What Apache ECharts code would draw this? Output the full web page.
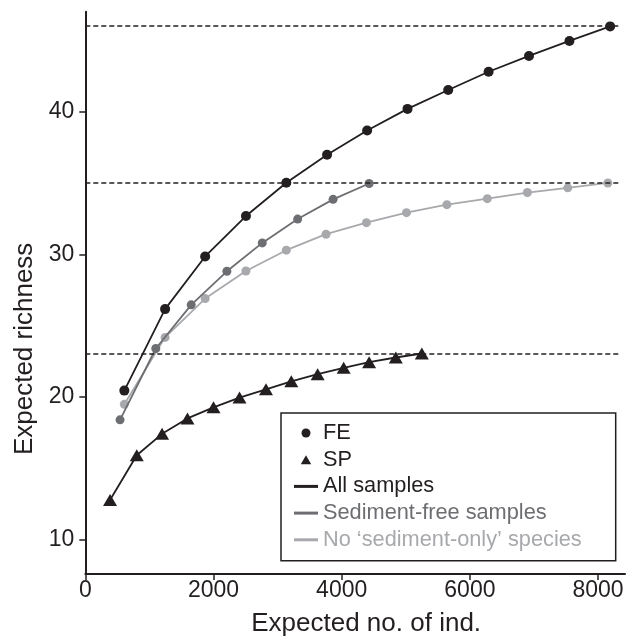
<!DOCTYPE html>
<html>
<head>
<meta charset="utf-8">
<style>
html,body{margin:0;padding:0;background:#fff;}
#chart{width:637px;height:642px;}
</style>
<script src="https://cdn.jsdelivr.net/npm/echarts@6/dist/echarts.min.js"></script>
</head>
<body>
<div id="chart"></div>
<script>
// ---- data ----
const xTicks = [0, 2000, 4000, 6000, 8000];
const yTicks = [10, 20, 30, 40];

const feAllX = [609, 1245, 1870, 2506, 3136, 3772, 4397, 5027, 5662, 6292, 6922, 7553, 8188];
const feAllY = [20.45, 26.16, 29.85, 32.68, 35.01, 36.98, 38.68, 40.19, 41.51, 42.79, 43.9, 44.95, 45.97];

const feSedFreeX = [542, 1100, 1652, 2209, 2761, 3313, 3866, 4428];
const feSedFreeY = [18.4, 23.4, 26.46, 28.81, 30.8, 32.47, 33.85, 34.96];

const feNoSedX = [609, 1245, 1870, 2506, 3136, 3756, 4386, 5011, 5641, 6272, 6897, 7527, 8152];
const feNoSedY = [19.49, 24.18, 26.9, 28.83, 30.29, 31.41, 32.22, 32.92, 33.48, 33.9, 34.33, 34.66, 35.0];

const spAllX = [386, 803, 1198, 1594, 2000, 2406, 2819, 3214, 3625, 4031, 4428, 4844, 5250];
const spAllY = [12.78, 15.92, 17.42, 18.5, 19.28, 19.96, 20.54, 21.1, 21.6, 22.05, 22.44, 22.77, 23.05];

const asymptotes = [46, 35, 23];
const refLineX = [0, 8320];

const legendNames = ['FE', 'SP', 'All samples', 'Sediment-free samples', 'No \u2018sediment-only\u2019 species'];

// ---- styling ----
const FONT = "'Liberation Sans', Arial, Helvetica, sans-serif";
const C_BLACK = '#231f20';
const C_DARK = '#6d6e71';
const C_LIGHT = '#a7a9ac';

function pairs(xs, ys) { return xs.map((x, i) => [x, ys[i]]); }

const chart = echarts.init(document.getElementById('chart'), null, {renderer: 'canvas'});

const option = {
  animation: false,
  backgroundColor: '#fff',
  grid: {left: 85.3, right: 12, top: 11.7, bottom: 65.3, containLabel: false},
  xAxis: {
    type: 'value', min: 0, max: 8420,
    name: 'Expected no. of ind.', nameLocation: 'middle', nameGap: 37,
    nameTextStyle: {fontFamily: FONT, fontSize: 26, color: C_BLACK, padding: [0, 0, 0, 22]},
    axisLine: {show: true, lineStyle: {color: C_BLACK, width: 2}},
    axisTick: {show: true, length: 6, lineStyle: {color: C_BLACK, width: 1.5}, customValues: xTicks},
    axisLabel: {fontFamily: FONT, fontSize: 23, color: C_BLACK, margin: 5, customValues: xTicks,
      formatter: v => String(v)},
    splitLine: {show: false}
  },
  yAxis: {
    type: 'value', min: 7.6, max: 47,
    name: 'Expected richness', nameLocation: 'middle', nameGap: 45,
    nameTextStyle: {fontFamily: FONT, fontSize: 26, color: C_BLACK, padding: [0, 112, 0, 0]},
    axisLine: {show: true, lineStyle: {color: C_BLACK, width: 2}},
    axisTick: {show: true, length: 6, lineStyle: {color: C_BLACK, width: 1.5}, customValues: yTicks},
    axisLabel: {fontFamily: FONT, fontSize: 23, color: C_BLACK, margin: 11, customValues: yTicks,
      formatter: v => String(v)},
    splitLine: {show: false}
  },
  legend: {
    orient: 'vertical', left: 281, top: 413,
    padding: [9, 34, 10, 13],
    itemGap: 4.7, itemWidth: 24, itemHeight: 9,
    borderColor: C_BLACK, borderWidth: 1.5, borderRadius: 0,
    backgroundColor: '#fff',
    selectedMode: false,
    symbolKeepAspect: true,
    textStyle: {fontFamily: FONT, fontSize: 21.75, color: C_BLACK},
    data: [
      {name: legendNames[0], icon: 'circle', textStyle: {color: C_BLACK}},
      {name: legendNames[1], icon: 'path://M5.5,0L11,9.5H0Z', textStyle: {color: C_BLACK}},
      {name: legendNames[2], icon: 'path://M0,0H24V3H0Z', textStyle: {color: C_BLACK}},
      {name: legendNames[3], icon: 'path://M0,0H24V3H0Z', textStyle: {color: C_DARK}},
      {name: legendNames[4], icon: 'path://M0,0H24V3H0Z', textStyle: {color: C_LIGHT}}
    ]
  },
  series: [
    {
      name: legendNames[4], type: 'line', data: pairs(feNoSedX, feNoSedY),
      color: C_LIGHT, symbol: 'circle', symbolSize: 9,
      lineStyle: {color: C_LIGHT, width: 1.8}, itemStyle: {color: C_LIGHT}, z: 3
    },
    {
      name: legendNames[3], type: 'line', data: pairs(feSedFreeX, feSedFreeY),
      color: C_DARK, symbol: 'circle', symbolSize: 9,
      lineStyle: {color: C_DARK, width: 1.8}, itemStyle: {color: C_DARK}, z: 4
    },
    {
      name: legendNames[2], type: 'line', data: pairs(feAllX, feAllY),
      color: C_BLACK, symbol: 'circle', symbolSize: 10,
      lineStyle: {color: C_BLACK, width: 1.8}, itemStyle: {color: C_BLACK}, z: 5,
      markLine: {
        silent: true, symbol: 'none', label: {show: false},
        lineStyle: {type: [5, 3], color: C_BLACK, width: 1.5},
        emphasis: {disabled: true},
        data: asymptotes.map(v => [{coord: [refLineX[0], v]}, {coord: [refLineX[1], v]}])
      }
    },
    {
      name: legendNames[1], type: 'line', data: pairs(spAllX, spAllY),
      color: C_BLACK, symbol: 'triangle', symbolSize: [14, 12],
      lineStyle: {color: C_BLACK, width: 1.8}, itemStyle: {color: C_BLACK}, z: 5
    },
    {
      // legend-only entry for the FE marker shape
      name: legendNames[0], type: 'line', data: [],
      color: C_BLACK, symbol: 'circle', itemStyle: {color: C_BLACK}
    }
  ]
};

chart.setOption(option);
</script>
</body>
</html>
